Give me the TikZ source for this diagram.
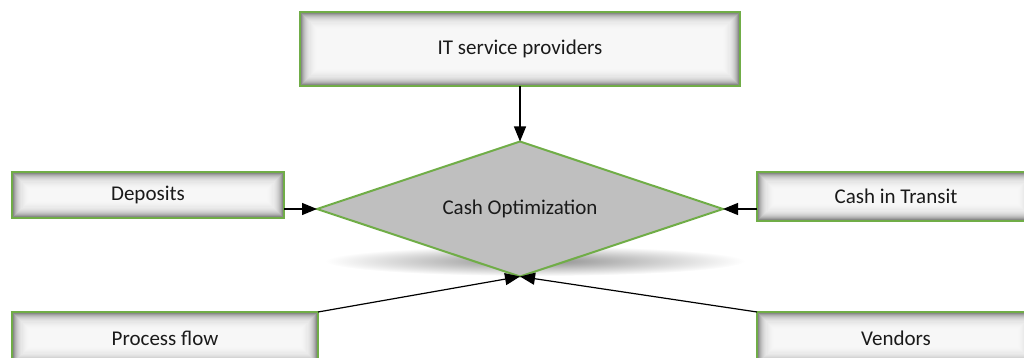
\documentclass[tikz,border=0pt]{standalone}
\usepackage{fontspec}
\setmainfont{Carlito}
\usetikzlibrary{arrows.meta,shapes.geometric}

\definecolor{boxgreen}{HTML}{70AD47}
\definecolor{edgegray}{HTML}{6E6E6E}
\definecolor{diafill}{HTML}{BFBFBF}
\definecolor{inktext}{HTML}{1A1A1A}

\tikzset{
  label font/.style={font=\fontsize{21}{25}\selectfont, text=inktext},
  panel/.style={
    rectangle, draw=boxgreen, line width=2.8pt, fill=edgegray,
    outer sep=0pt, inner sep=0pt, label font,
    path picture={
      \foreach \k in {1,...,16}{
        \fill[white, fill opacity=0.19]
          ([shift={(\k*1.05pt,-\k*1.05pt)}]path picture bounding box.north west)
          rectangle
          ([shift={(-\k*1.05pt,\k*1.05pt)}]path picture bounding box.south east);
      }
    }
  },
  decision/.style={
    diamond, aspect=3, draw=boxgreen, line width=2pt, fill=diafill,
    outer sep=0pt, inner sep=0pt, label font
  },
  feed/.style={
    draw=black, line width=1.2pt,
    -{Triangle[length=15pt,width=12pt]}
  }
}

\begin{document}
\begin{tikzpicture}[x=1pt,y=-1pt]
  \useasboundingbox (0,0) rectangle (1024,358);
  \clip (0,0) rectangle (1024,358);

  % soft shadow under the decision diamond
  \shade[inner color=black!45, outer color=white]
    (535,261) ellipse [x radius=210, y radius=15];

  % central decision
  \node[decision, minimum width=406pt, minimum height=135pt]
    (dia) at (520,209) {Cash Optimization};

  % surrounding inputs
  \node[panel, minimum width=440pt, minimum height=74pt]
    (itp) at (520,49) {IT service providers};
  \node[panel, minimum width=272pt, minimum height=46pt]
    (dep) at (148,195) {Deposits};
  \node[panel, minimum width=278pt, minimum height=49pt]
    (cit) at (896,196.5) {Cash in Transit};
  \node[panel, minimum width=306pt, minimum height=52pt]
    (pf) at (165,338) {Process flow};
  \node[panel, minimum width=278pt, minimum height=52pt]
    (vds) at (896,338) {Vendors};

  % connectors into the diamond
  \draw[feed] (itp.south) -- (dia.north);
  \draw[feed] (dep.east |- dia.west) -- (dia.west);
  \draw[feed] (cit.west |- dia.east) -- (dia.east);
  \draw[feed] (pf.north east) -- (dia.south);
  \draw[feed] (vds.north west) -- (dia.south);
\end{tikzpicture}
\end{document}
